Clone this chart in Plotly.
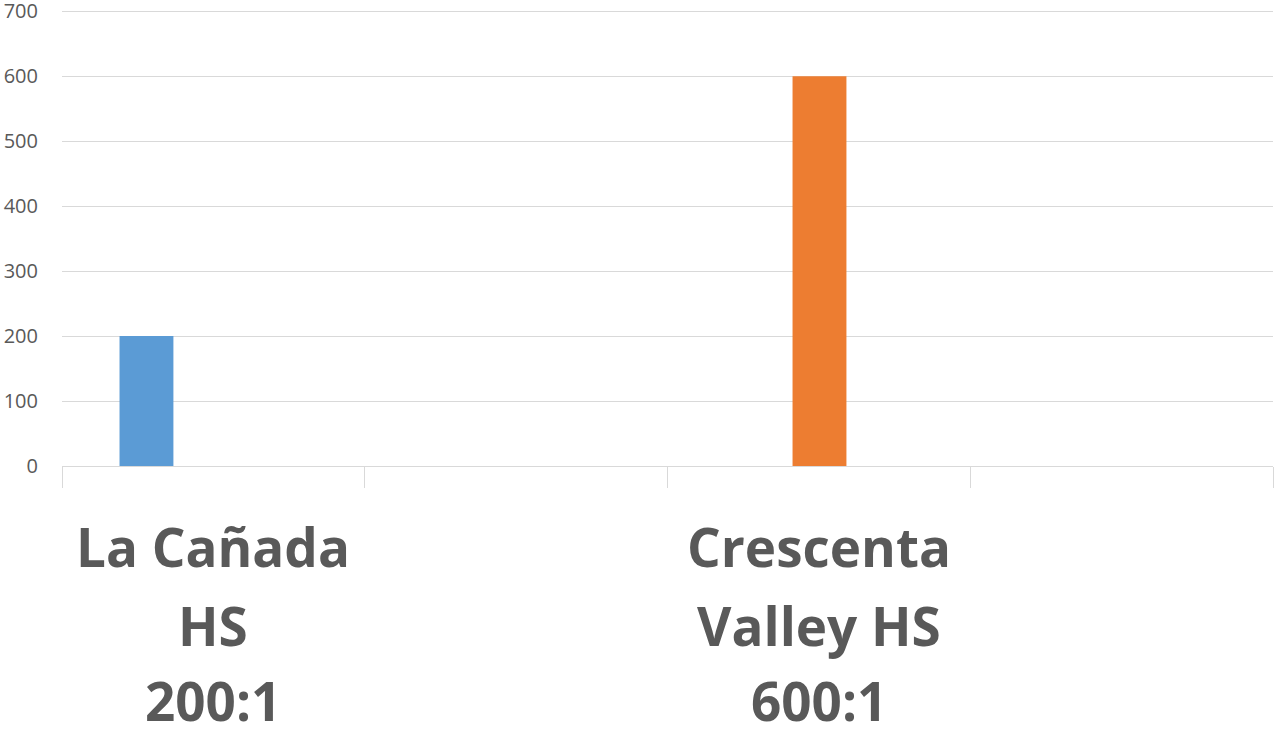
import plotly.graph_objects as go

categories = ["c1", "c2", "c3", "c4"]
label_lines = [["La Cañada", "HS", "200:1"], [], ["Crescenta", "Valley HS", "600:1"], []]
la_canada = [200, None, None, None]
crescenta = [None, None, 600, None]
y_ticks = [0, 100, 200, 300, 400, 500, 600, 700]

fig = go.Figure()
fig.add_trace(go.Bar(x=categories, y=la_canada, marker_color="#5B9BD5",
                     marker_line_width=0,
                     width=0.178, offset=-0.31, showlegend=False))
fig.add_trace(go.Bar(x=categories, y=crescenta, marker_color="#ED7D31",
                     marker_line_width=0,
                     width=0.178, offset=-0.087, showlegend=False))

line_shifts = [-80, -159.5, -234]
for cat, lines in zip(categories, label_lines):
    for text, shift in zip(lines, line_shifts):
        fig.add_annotation(x=cat, xref="x", y=0, yref="paper", text=text,
                           showarrow=False, xanchor="center", yanchor="middle",
                           yshift=shift,
                           font=dict(family="Open Sans", size=53, color="#595959",
                                     weight="bold"))

fig.update_layout(
    width=1274, height=733,
    margin=dict(l=62, r=1, t=9.7, b=267, autoexpand=False),
    paper_bgcolor="white", plot_bgcolor="white",
    barmode="overlay",
    font=dict(family="Open Sans", color="#595959"),
    xaxis=dict(
        type="category", categoryorder="array", categoryarray=categories,
        tickmode="array", tickvals=categories, ticktext=["", "", "", ""],
        tickson="boundaries", ticks="outside", ticklen=21, tickcolor="#d9d9d9",
        tickwidth=1, showline=True, linecolor="#d9d9d9", linewidth=1,
        showgrid=False, range=[-0.5, 3.5], tickangle=0, automargin=False,
    ),
    yaxis=dict(
        range=[0, 702], tickmode="array", tickvals=y_ticks,
        showgrid=True, gridcolor="#d9d9d9", gridwidth=1,
        zeroline=False, ticks="", showline=False, automargin=False,
        tickfont=dict(family="Open Sans", size=20, color="#595959"),
        ticklabelstandoff=23, ticklabeloverflow="allow",
    ),
)

fig.write_html("out.html", config={"displayModeBar": False},
               post_script="document.body.style.margin='0px';")
